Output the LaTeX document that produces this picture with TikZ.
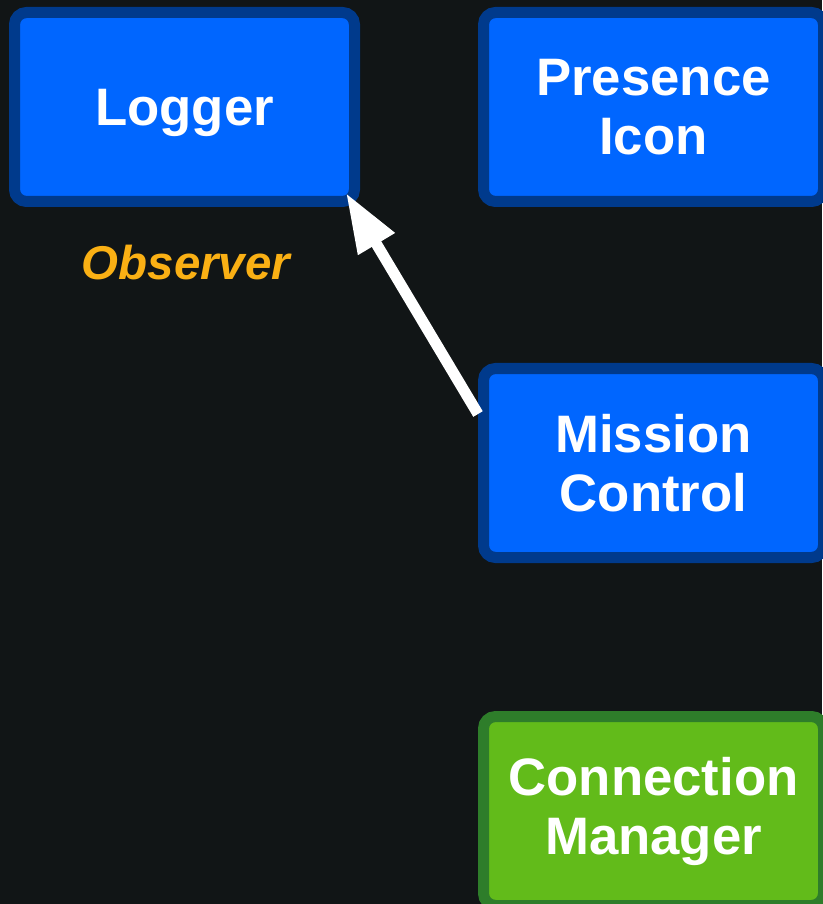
\documentclass[tikz,border=0pt]{standalone}
\usepackage{fontspec}
\setmainfont{Liberation Sans}
\usepackage{xcolor}
\usetikzlibrary{positioning}
\usetikzlibrary{arrows.meta}
\definecolor{bgdark}{RGB}{17,21,22}
\definecolor{boxblue}{RGB}{0,102,255}
\definecolor{edgeblue}{RGB}{0,58,140}
\definecolor{boxgreen}{RGB}{98,187,26}
\definecolor{edgegreen}{RGB}{46,125,42}
\definecolor{roleorange}{RGB}{250,176,20}

\begin{document}
\begin{tikzpicture}[
            comp/.style={draw=edgeblue, fill=boxblue, line width=0.22cm,
            rounded corners=0.24cm, minimum width=6.8cm, minimum height=3.78cm,
            align=center, text=white, font=\fontsize{30}{33.6}\selectfont\bfseries},
            compgreen/.style={comp, draw=edgegreen, fill=boxgreen},
            role/.style={text=roleorange, font=\fontsize{27}{30}\selectfont\bfseries\itshape},
            link/.style={draw=white, line width=0.22cm, -{Triangle[length=1.19cm, width=0.8cm]}}]
            \fill[bgdark] (0,0) rectangle (16.44,-18.08);
            \useasboundingbox (0,0) rectangle (16.44,-18.08);
            %% Components
            \node[comp, text depth=0pt] (logger) at (3.69,-2.14) {Logger};
            \node[comp] (presence) at (13.07,-2.14) {Presence\\Icon};
            \node[comp] (mission) at (13.07,-9.26) {Mission\\Control};
            \node[compgreen] (connmgr) at (13.07,-16.22) {Connection\\Manager};
            %%
            \node[role] (observer) at (3.72,-5.26) {Observer};
            %% Notification
            \path[link] ([yshift=-1.02cm]mission.north west) to ([shift={(-0.28cm,0.28cm)}]logger.south east);
        \end{tikzpicture}
\end{document}
